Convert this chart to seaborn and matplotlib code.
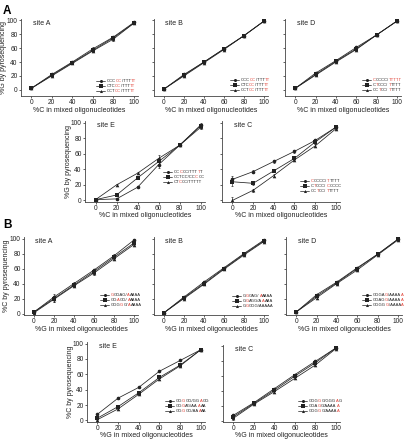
import matplotlib
matplotlib.use('Agg')
import matplotlib.pyplot as plt
import pandas as pd
import seaborn as sns
from matplotlib.lines import Line2D
from matplotlib.offsetbox import AnchoredOffsetbox, HPacker, VPacker, TextArea, DrawingArea

sns.set_theme(style='ticks')
plt.rcParams['font.family'] = ['Liberation Sans', 'DejaVu Sans']

W, H = 407, 440
INK = '#222222'
RED = '#e03c31'
MARKERS = ['o', 's', '^']

x_mixed = [0, 20, 40, 60, 80, 100]

# panel A: %G by pyrosequencing vs %C in mixed oligos
aA_vals = [[2, 22, 40, 59, 76, 97], [2, 21, 39, 57, 75, 96], [2, 20, 38, 56, 73, 96]]
aA_err = [1, 1.5, 1.5, 2, 2, 1]
aA_labels = ['CCC[CC]/TTT[TT]', 'CTC[CC]/TTT[TT]', 'CCT[CC]/TTT[TT]']

aB_vals = [[1, 22, 40, 59, 78, 99], [1, 21, 40, 59, 78, 99], [1, 20, 39, 58, 78, 99]]
aB_err = [1, 1.5, 1, 1, 1, 1]
aB_labels = ['CCC[CC]/TTT[TT]', 'CTC[CC]/TTT[TT]', 'CCT[CC]/TTT[TT]']

aD_vals = [[2, 24, 42, 61, 79, 99], [2, 22, 41, 59, 79, 99], [2, 21, 40, 58, 79, 99]]
aD_err = [1, 1.5, 1.5, 1.5, 1, 1]
aD_labels = ['[C]CCCC/[TTTTT]', 'C[T]CCC/[T]TTTT', 'CC[T]CC/[T]TTTT']

aE_vals = [[1, 2, 17, 46, 71, 97], [1, 7, 29, 50, 71, 96], [1, 20, 35, 54, 71, 94]]
aE_err = [1, 1.5, 1.5, 4, 1, 2]
aE_labels = ['CC[C]CC/TTT[T]T', 'CCTCC/CC[C]CC', 'CT[C]CC/TTTTT']

aC_vals = [[27, 37, 50, 63, 77, 94], [24, 22, 38, 54, 75, 94], [0, 13, 32, 52, 70, 92]]
aC_err = [5, 2, 1.5, 2, 2, 2]
aC_labels = ['[C]CCCC/[T]TTTT', 'C[T]CCC/[C]CCCC', 'CC[T]CC/[T]TTTT']

# panel B: %C by pyrosequencing vs %G in mixed oligos
bA_vals = [[2, 22, 40, 58, 77, 98], [2, 20, 38, 56, 75, 94], [1, 19, 37, 54, 73, 92]]
bA_err = [1.5, 4, 2, 2, 2, 2]
bA_labels = ['[G]GGAG/[A]AAAA', 'GG[A]GG/[A]AAAA', 'GGG[G]G/[A]AAAA']

bB_vals = [[1, 22, 42, 61, 80, 98], [1, 21, 40, 60, 79, 97], [1, 20, 39, 59, 78, 96]]
bB_err = [2, 1, 1.5, 1, 1, 1.5]
bB_labels = ['G[G]GAG/[A]AAAA', 'G[G]AGG/A[A]AAA', 'G[G]GGG/AAAAA']

bD_vals = [[2, 25, 42, 61, 79, 99], [2, 23, 41, 60, 79, 99], [2, 21, 40, 58, 78, 98]]
bD_err = [1.5, 1.5, 1.5, 1.5, 1, 1]
bD_labels = ['GGGA[G]/AAAA[A]', 'GGAG[G]/AAAA[A]', 'GGGG[G]/AAAA[A]']

bE_vals = [[8, 29, 43, 64, 78, 92], [3, 18, 36, 56, 72, 92], [1, 15, 34, 54, 71, 92]]
bE_err = [1, 1, 1, 1, 1, 1]
bE_labels = ['GG[G]GG/GG[A]GG', 'GG[G]AG/AA[A]AA', 'GG[G]GG/AA[A]AA']

bC_vals = [[7, 24, 43, 62, 80, 98], [5, 23, 41, 60, 78, 98], [3, 22, 39, 57, 75, 97]]
bC_err = [2, 1, 1.5, 1.5, 1.5, 1]
bC_labels = ['GGG[G]G/GGG[A]G', 'GGA[G]G/AAAA[A]', 'GGG[G]G/AAAA[A]']

fig = plt.figure(figsize=(W / 100, H / 100), dpi=100)


def label_parts(s):
    parts, buf, red = [], '', False
    for ch in s:
        if ch in '[]':
            if buf:
                parts.append((buf, RED if red else INK))
            buf, red = '', ch == '['
        else:
            buf += ch
    if buf:
        parts.append((buf, RED if red else INK))
    return parts


def add_legend(ax, labels, anchor):
    rows = []
    for lab, m in zip(labels, MARKERS):
        da = DrawingArea(6.5, 3.0, 0, 0)
        da.add_artist(Line2D([0, 6.5], [1.5, 1.5], color=INK, lw=0.5))
        da.add_artist(Line2D([3.25], [1.5], marker=m, ms=2.2, color=INK, mew=0))
        txt = HPacker(children=[TextArea(t, textprops=dict(color=c, fontsize=3.0))
                                for t, c in label_parts(lab)], pad=0, sep=0.05)
        rows.append(HPacker(children=[da, txt], pad=0, sep=1.0, align='center'))
    box = VPacker(children=rows, pad=0, sep=0.7, align='left')
    anc = AnchoredOffsetbox(loc='center left', child=box, pad=0, borderpad=0, frameon=False,
                            bbox_to_anchor=(anchor[0] / W, 1 - anchor[1] / H),
                            bbox_transform=fig.transFigure)
    ax.add_artist(anc)


def panel(box, vals, err, labels, site, leg_xy, ylim, xlab, ylab=None, xlab_gap=10):
    l, t, r, b = box
    ax = fig.add_axes([l / W, 1 - b / H, (r - l) / W, (b - t) / H])
    rows = []
    for lab, v in zip(labels, vals):
        for xv, yv in zip(x_mixed, v):
            rows.append({'x': xv, 'y': yv, 'seq': lab})
    df = pd.DataFrame(rows)
    sns.lineplot(data=df, x='x', y='y', style='seq', style_order=labels, markers=MARKERS,
                 dashes=False, color=INK, linewidth=0.55, markersize=2.6, markeredgewidth=0,
                 legend=False, errorbar=None, ax=ax)
    for v in vals:
        ax.errorbar(x_mixed, v, yerr=err, fmt='none', ecolor=INK, elinewidth=0.45,
                    capsize=0.8, capthick=0.45)
    ax.set_xlim(-10, 104)
    ax.set_ylim(*ylim)
    ax.set_xticks(x_mixed)
    ax.set_yticks([0, 20, 40, 60, 80, 100])
    ax.tick_params(labelsize=4.8, length=1.6, width=0.5, pad=0.8, colors=INK)
    for sp in ['left', 'bottom']:
        ax.spines[sp].set_linewidth(0.6)
        ax.spines[sp].set_color('#444444')
    sns.despine(ax=ax)
    ax.set_xlabel(xlab, fontsize=5.0, color=INK)
    ax.xaxis.set_label_coords(0.5, -xlab_gap / (b - t))
    if ylab:
        ax.set_ylabel(ylab, fontsize=5.0, color=INK)
        ax.yaxis.set_label_coords(-13.5 / (r - l), 0.5)
    else:
        ax.set_ylabel('')
        ax.set_yticklabels([])
    ax.text(0.1, 0.99, site, transform=ax.transAxes, va='top', ha='left', fontsize=5.0, color=INK)
    add_legend(ax, labels, leg_xy)
    return ax


xc = '%C in mixed oligonucleotides'
xg = '%G in mixed oligonucleotides'
yg = '%G by pyrosequencing'
yc = '%C by pyrosequencing'
ylim_top = (-9, 102)
ylim = (-2, 102)

panel((21, 19, 138, 96), aA_vals, aA_err, aA_labels, 'site A', (96, 86), ylim_top, xc, yg, 10.5)
panel((154, 19, 268, 96), aB_vals, aB_err, aB_labels, 'site B', (230, 85), ylim_top, xc, None, 10.5)
panel((285, 19, 401, 96), aD_vals, aD_err, aD_labels, 'site D', (362, 85), ylim_top, xc, None, 10.5)
panel((85, 121, 205, 202), aE_vals, aE_err, aE_labels, 'site E', (163, 177), ylim, xc, yg, 9.5)
panel((222, 121, 340, 202), aC_vals, aC_err, aC_labels, 'site C', (300, 186), ylim, xc, None, 9.5)

panel((24, 237, 138, 315), bA_vals, bA_err, bA_labels, 'site A', (100, 300), ylim, xg, yc, 10.5)
panel((154, 237, 268, 315), bB_vals, bB_err, bB_labels, 'site B', (232, 301), ylim, xg, None, 10.5)
panel((286, 237, 402, 315), bD_vals, bD_err, bD_labels, 'site D', (362, 300), ylim, xg, None, 10.5)
panel((87, 342, 205, 422), bE_vals, bE_err, bE_labels, 'site E', (165, 406), ylim, xg, yc, 9.5)
panel((223, 345, 340, 422), bC_vals, bC_err, bC_labels, 'site C', (298, 406), ylim, xg, None, 9.5)

fig.text(3 / W, 1 - 5 / H, 'A', fontsize=8.5, fontweight='bold', va='top', color='black')
fig.text(3 / W, 1 - 219 / H, 'B', fontsize=8.5, fontweight='bold', va='top', color='black')

fig.savefig('out.png', dpi=100)
